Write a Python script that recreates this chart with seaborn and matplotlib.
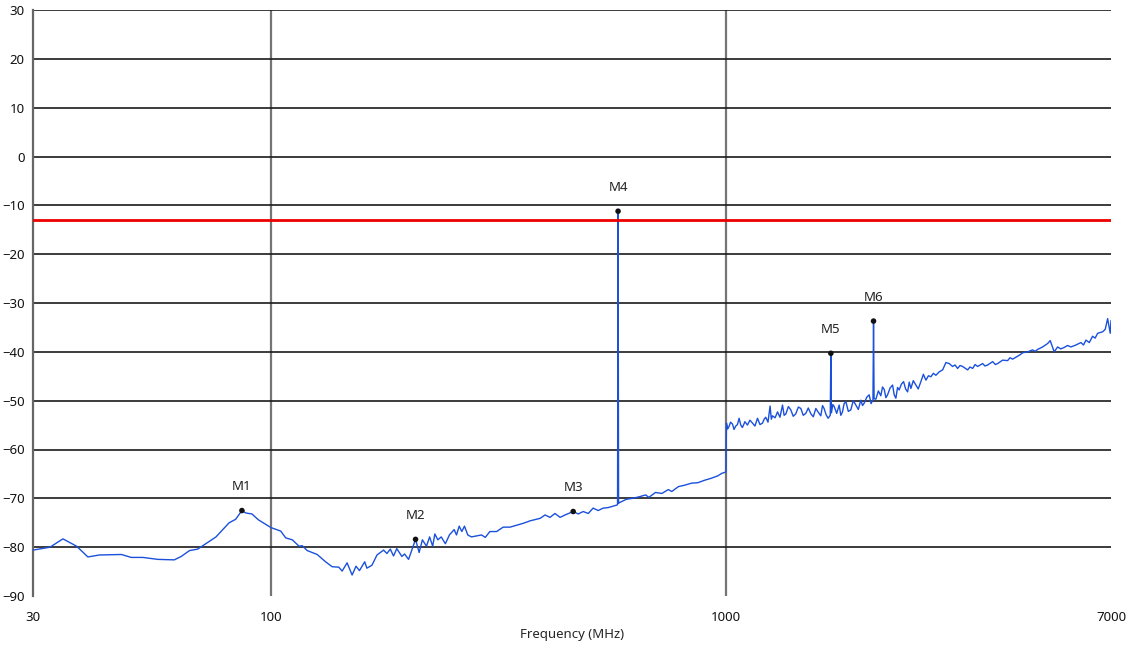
import matplotlib
matplotlib.use('Agg')
import matplotlib.pyplot as plt
import seaborn as sns

# spectrum trace (MHz, dBm)
freq_mhz = [
    30.0, 32.7, 34.9, 37.4, 39.6, 42.0, 46.9, 49.3, 52.3, 56.4, 61.3, 63.5, 66.2, 69.0,
    75.7, 80.9, 83.6, 86.3, 88.0, 90.8, 93.8, 100.0, 105.0, 107.7, 111.4, 115.2, 117.1,
    120.1, 126.3, 131.8, 136.2, 140.9, 143.3, 146.9, 150.7, 153.7, 156.4, 160.6, 162.4,
    166.6, 170.9, 176.7, 179.7, 182.8, 185.8, 188.9, 193.8, 196.5, 200.5, 207.7, 211.5,
    215.0, 219.5, 223.0, 226.5, 229.0, 232.5, 236.5, 241.5, 246.5, 252.5, 255.5, 259.0,
    262.5, 266.0, 270.5, 275.5, 282.5, 290.0, 295.5, 302.5, 313.0, 323.5, 335.0, 346.5,
    358.5, 371.0, 390.0, 400.0, 410.0, 420.5, 431.5, 442.5, 461.0, 473.0, 485.0, 497.5,
    510.0, 523.0, 536.5, 550.0, 564.0, 574.0, 577.0, 578.5, 580.0, 585.0, 603.0, 622.0,
    643.0, 665.0, 676.0, 699.0, 722.0, 746.0, 759.0, 785.0, 811.0, 838.0, 866.0, 896.0,
    926.0, 958.0, 977.0, 998.0,
    1001, 1007, 1014, 1022, 1032, 1040, 1049, 1058, 1067, 1076, 1085, 1099, 1113, 1127,
    1142, 1156, 1171, 1186, 1201, 1211, 1221, 1235, 1248, 1256, 1263, 1280, 1296, 1312,
    1329, 1340, 1352, 1369, 1386, 1403, 1421, 1440, 1458, 1476, 1495, 1514, 1534, 1553,
    1573, 1593, 1613, 1627, 1640, 1657, 1674, 1692, 1697, 1702, 1714, 1726, 1748, 1770,
    1785, 1800, 1815, 1831, 1854, 1877, 1901, 1926, 1950, 1975, 1992, 2009, 2035, 2060,
    2080, 2100, 2106, 2112, 2131, 2158, 2185, 2204, 2223, 2242, 2261, 2290, 2319, 2338,
    2358, 2378, 2398, 2425, 2452, 2477, 2502, 2523, 2544, 2575, 2609, 2640, 2676, 2710,
    2745, 2780, 2815, 2850, 2887, 2936, 2987, 3037, 3088, 3141, 3180, 3222, 3262, 3305,
    3390, 3430, 3477, 3520, 3566, 3657, 3700, 3751, 3847, 3900, 3945, 4046, 4150, 4200,
    4256, 4365, 4420, 4477, 4592, 4709, 4770, 4830, 4953, 5080, 5147, 5252, 5344, 5430,
    5525, 5620, 5716, 5862, 6013, 6090, 6167, 6271, 6379, 6460, 6543, 6710, 6799, 6882,
    6973, 7000,
]
level_dbm = [
    -80.6, -80.0, -78.3, -79.8, -82.0, -81.6, -81.5, -82.1, -82.1, -82.5, -82.6, -81.9, -80.7, -80.4,
    -77.9, -75.0, -74.3, -72.5, -73.0, -73.2, -74.4, -76.0, -76.7, -78.1, -78.5, -79.8, -79.7,
    -80.7, -81.5, -83.0, -84.0, -84.1, -84.9, -83.2, -85.7, -83.9, -84.8, -83.0, -84.3,
    -83.7, -81.6, -80.6, -81.3, -80.4, -81.8, -80.3, -81.9, -81.4, -82.5, -78.4, -81.1,
    -78.5, -79.8, -77.9, -79.8, -77.3, -78.5, -77.9, -79.3, -77.5, -76.4, -77.5, -75.7,
    -76.8, -75.7, -77.5, -77.9, -77.7, -77.5, -78.0, -76.8, -76.8, -75.9, -75.9, -75.5,
    -75.1, -74.6, -74.1, -73.4, -73.9, -73.1, -73.9, -73.4, -72.7, -73.2, -72.7, -73.1,
    -72.0, -72.5, -72.0, -71.9, -71.6, -71.4, -71.3, -11.2, -71.0, -70.8, -70.2, -70.0,
    -69.7, -69.3, -69.8, -68.8, -69.0, -68.2, -68.6, -67.6, -67.3, -66.9, -66.8, -66.3,
    -65.9, -65.4, -64.9, -64.6,
    -54.6, -55.8, -55.3, -54.4, -54.8, -55.9, -55.2, -54.9, -53.6, -55.0, -55.5, -54.3, -55.0, -54.0,
    -54.6, -55.2, -53.6, -54.9, -54.6, -53.8, -53.4, -54.4, -51.1, -53.8, -53.1, -53.5, -52.3, -53.4,
    -50.9, -53.0, -52.7, -51.2, -51.9, -53.2, -52.7, -51.3, -51.6, -53.0, -52.6, -51.5, -52.7, -53.3,
    -51.6, -52.4, -53.1, -51.0, -51.6, -52.9, -53.6, -53.0, -40.3, -52.5, -50.8, -51.2, -52.6, -50.9,
    -53.0, -52.3, -50.6, -50.2, -52.2, -51.9, -50.0, -50.9, -51.8, -49.9, -51.0, -50.5, -49.3, -48.8,
    -50.6, -49.8, -33.7, -49.6, -49.7, -48.0, -49.0, -47.2, -47.7, -49.4, -48.8, -47.4, -46.8, -48.8,
    -49.5, -47.3, -47.8, -46.6, -46.1, -47.6, -48.2, -46.2, -47.5, -45.9, -46.8, -47.6, -46.1, -44.6,
    -45.8, -44.9, -45.1, -44.4, -44.8, -44.1, -43.7, -42.2, -42.4, -43.0, -42.7, -43.4, -42.8, -43.0,
    -43.7, -43.1, -43.4, -42.6, -43.0, -42.4, -42.9, -42.7, -42.0, -42.6, -42.4, -41.7, -41.8, -41.2,
    -41.5, -40.9, -40.6, -40.2, -40.0, -39.6, -39.9, -39.5, -39.0, -38.3, -37.7, -40.0, -39.0, -39.4,
    -39.1, -38.7, -39.0, -38.6, -38.1, -38.6, -37.6, -38.1, -36.8, -37.2, -36.2, -35.9, -35.4, -33.2,
    -36.2, -33.6,
]

marker_names = ['M1', 'M2', 'M3', 'M4', 'M5', 'M6']
marker_freq = [86.3, 207.7, 461.0, 578.5, 1697, 2106]
marker_level = [-72.5, -78.4, -72.7, -11.2, -40.3, -33.7]

limit_dbm = -13

x_major = [100, 1000]
x_edge = [30, 7000]
y_ticks = list(range(-90, 31, 10))

sns.set_style('white')
plt.rcParams['font.family'] = ['Noto Sans', 'DejaVu Sans']

fig, ax = plt.subplots(figsize=(11.3, 6.5), dpi=100)
fig.subplots_adjust(left=33/1130, right=1111/1130, top=1-10/650, bottom=1-596/650)

sns.lineplot(x=freq_mhz, y=level_dbm, ax=ax, color='#1a50dc', linewidth=1.0,
             estimator=None, sort=False, zorder=3)
ax.axhline(limit_dbm, color='#ee0000', linewidth=2, zorder=4)
sns.scatterplot(x=marker_freq, y=marker_level, ax=ax, color='#111111', s=16,
                edgecolor='none', zorder=5)
for name, f, lv in zip(marker_names, marker_freq, marker_level):
    ax.annotate(name, (f, lv), xytext=(0, 17), textcoords='offset points',
                ha='center', va='center', fontsize=9.5, color='#222222')

ax.set_xscale('log')
ax.set_xlim(30, 7000)
ax.set_ylim(-90, 30)
ax.set_xticks(x_major, labels=[str(v) for v in x_major])
ax.set_xticks(x_edge, labels=[str(v) for v in x_edge], minor=True)
ax.set_yticks(y_ticks)

ax.grid(axis='y', color='#1a1a1a', linewidth=1.2)
ax.grid(axis='x', which='major', color='#757575', linewidth=1.6)
ax.grid(axis='x', which='minor', visible=False)
ax.yaxis.get_gridlines()[0].set_visible(False)

for side in ['top', 'right', 'bottom']:
    ax.spines[side].set_visible(False)
ax.spines['left'].set_color('#666666')
ax.spines['left'].set_linewidth(1.6)

ax.tick_params(axis='both', which='both', length=4, width=1, color='#666666',
               labelsize=9.5, labelcolor='#111111', direction='out')
ax.tick_params(axis='x', which='both', pad=7)
ax.tick_params(axis='y', pad=2)
ax.set_xlabel('Frequency (MHz)', fontsize=9.5, labelpad=3)
ax.set_ylabel('')

plt.savefig('out.png', dpi=100)
